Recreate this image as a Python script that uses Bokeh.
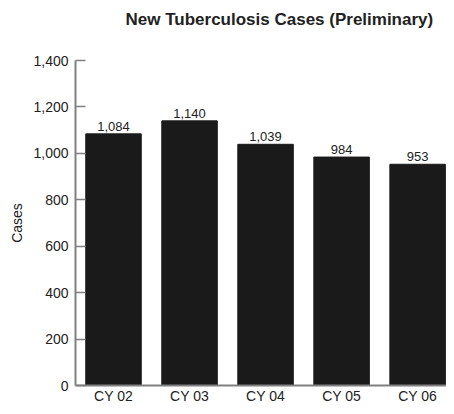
from bokeh.plotting import figure
from bokeh.models import ColumnDataSource, Range1d, FixedTicker, NumeralTickFormatter, LabelSet, Title
from bokeh.core.properties import value
from bokeh.embed import file_html
from bokeh.resources import INLINE

categories = ["CY 02", "CY 03", "CY 04", "CY 05", "CY 06"]
cases = [1084, 1140, 1039, 984, 953]
y_ticks = [0, 200, 400, 600, 800, 1000, 1200, 1400]
title = "New Tuberculosis Cases (Preliminary)"

idx = list(range(len(categories)))
labels = [f"{v:,}" for v in cases]
src = ColumnDataSource(dict(x=idx, y=cases, lab=labels))

FONT = "Liberation Sans"
TXT = "#222222"

p = figure(width=446, height=406, output_backend="svg", toolbar_location=None, title=None,
           x_range=Range1d(-0.5, 4.38), y_range=Range1d(0, 1400),
           min_border_left=75, min_border_right=0, min_border_top=60, min_border_bottom=0)

# spacer panel next to the frame, then the real title above it
p.add_layout(Title(text=" ", text_font_size="2px", standoff=28, text_color="#ffffff"), "above")
p.add_layout(Title(text=title, text_font=FONT, text_font_size="17px", text_font_style="bold",
                   text_color=TXT, standoff=0, align="left", offset=50), "above")

p.vbar(x="x", top="y", width=0.73, source=src, fill_color="#1a1a1a", line_color="#1a1a1a")

p.add_layout(LabelSet(x="x", y="y", text="lab", source=src, text_align="center",
                      text_baseline="bottom", y_offset=3, text_font=value(FONT),
                      text_font_size=value("13px"), text_color=value(TXT)))

p.xgrid.visible = False
p.ygrid.visible = False
p.outline_line_color = None

xa = p.xaxis[0]
xa.ticker = FixedTicker(ticks=idx)
xa.major_label_overrides = {i: c for i, c in zip(idx, categories)}
xa.major_tick_line_color = None
xa.minor_tick_line_color = None
xa.major_tick_in = 0
xa.major_tick_out = 0
xa.minor_tick_in = 0
xa.minor_tick_out = 0
xa.axis_line_color = "#808080"
xa.axis_line_width = 2
xa.major_label_text_font = FONT
xa.major_label_text_font_size = "14px"
xa.major_label_text_color = TXT
xa.major_label_standoff = 2

ya = p.yaxis[0]
ya.ticker = FixedTicker(ticks=y_ticks)
ya.formatter = NumeralTickFormatter(format="0,0")
ya.axis_label = "Cases"
ya.axis_label_text_font = FONT
ya.axis_label_text_font_size = "14px"
ya.axis_label_text_font_style = "normal"
ya.axis_label_text_color = TXT
ya.axis_label_standoff = 5
ya.major_tick_in = 10
ya.major_tick_out = 0
ya.minor_tick_in = 0
ya.minor_tick_out = 0
ya.minor_tick_line_color = None
ya.major_tick_line_color = "#808080"
ya.major_tick_line_width = 1.5
ya.axis_line_color = "#808080"
ya.axis_line_width = 2
ya.major_label_text_font = FONT
ya.major_label_text_font_size = "14px"
ya.major_label_text_color = TXT
ya.major_label_standoff = 7

open("out.html", "w").write(file_html(p, INLINE))
